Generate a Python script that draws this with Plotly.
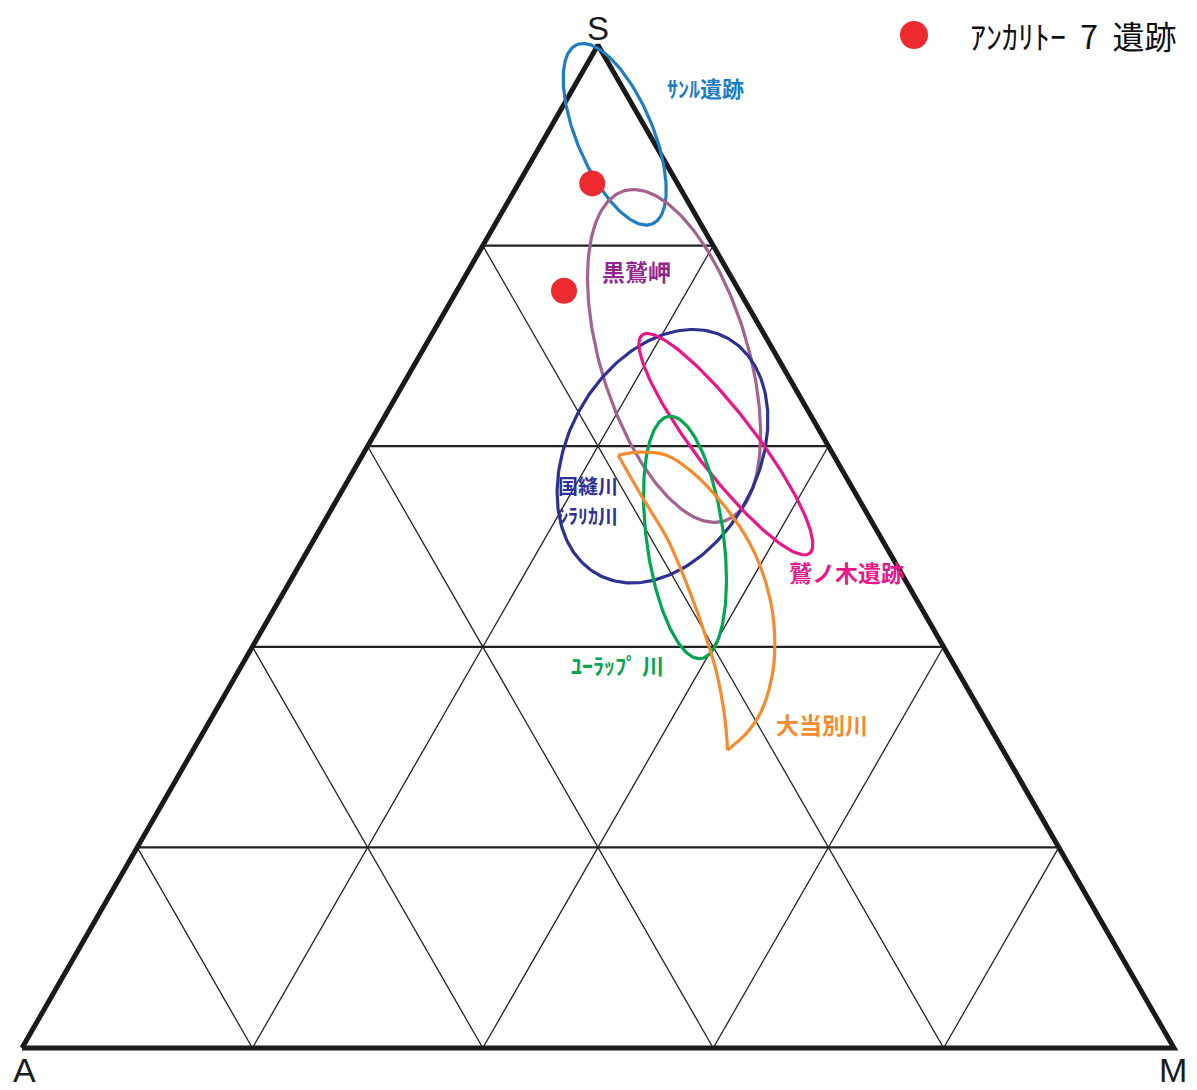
import numpy as np
import plotly.graph_objects as go

# アンカリトー7遺跡 samples (S, A, M in %)
dot_S = [86.2, 75.5]
dot_A = [7.4, 15.2]
dot_M = [6.4, 9.3]

# source ellipses: centre (S, A, M %), semi-axes (fraction of side), axis angle (deg)
ell_names = ["サンル遺跡", "黒鷲岬", "国縫川・シラリカ川", "鷲ノ木遺跡", "ユーラップ川"]
ell_S = [91.1, 69.0, 59.0, 60.2, 50.9]
ell_A = [3.0, 8.9, 14.9, 8.8, 17.0]
ell_M = [5.9, 22.1, 26.1, 31.0, 32.1]
ell_major = [0.084, 0.149, 0.1165, 0.119, 0.1055]
ell_minor = [0.033, 0.064, 0.0823, 0.026, 0.0335]
ell_angle = [113, 107, 61, 127.6, 97.6]
ell_colors = ["#1e7dc3", "#a3628f", "#2e3192", "#e8178a", "#00a650"]

# 大当別川 crescent outline (outer arc then inner arc)
ot_outer_S = [59.1, 59.4, 59.1, 57.4, 54.9, 51.9, 48.7, 44.7, 40.7, 37.0, 33.4, 31.4, 29.7]
ot_outer_A = [18.7, 16.7, 14.5, 13.1, 12.2, 11.7, 11.8, 12.7, 14.3, 16.4, 19.2, 21.4, 23.9]
ot_outer_M = [22.2, 23.9, 26.4, 29.5, 32.9, 36.4, 39.5, 42.6, 45.0, 46.6, 47.4, 47.2, 46.4]
ot_inner_S = [29.7, 33.0, 37.4, 40.7, 45.4, 50.7, 54.9, 59.1]
ot_inner_A = [23.9, 22.5, 21.0, 20.2, 19.3, 18.6, 18.7, 18.7]
ot_inner_M = [46.4, 44.5, 41.6, 39.1, 35.3, 30.7, 26.4, 22.2]
orange = "#f58b2e"

# grid every 20 %
grid_ticks = [20, 40, 60, 80]

R3 = np.sqrt(3) / 2


def to_xy(S, A, M):
    S, A, M = np.asarray(S, float), np.asarray(A, float), np.asarray(M, float)
    tot = S + A + M
    s, m = S / tot, M / tot
    return m + 0.5 * s, s


def ellipse(cs, ca, cm, ra, rb, ang, n=240):
    cx, cy = to_xy(cs, ca, cm)
    cy = cy * R3
    t = np.linspace(0, 2 * np.pi, n)
    th = np.radians(ang)
    x = cx + ra * np.cos(t) * np.cos(th) - rb * np.sin(t) * np.sin(th)
    y = cy + ra * np.cos(t) * np.sin(th) + rb * np.sin(t) * np.cos(th)
    return x, y / R3


fig = go.Figure()

# triangular grid
for k in grid_ticks:
    for S_, A_, M_, w in [([k, k], [100 - k, 0], [0, 100 - k], 2.2),
                          ([0, 100 - k], [100 - k, 0], [k, k], 1.3),
                          ([0, 100 - k], [k, k], [100 - k, 0], 1.3)]:
        gx, gy = to_xy(S_, A_, M_)
        fig.add_trace(go.Scatter(x=gx, y=gy, mode="lines", line=dict(color="#222", width=w),
                                 hoverinfo="skip"))

# outline A -> M -> S -> A
bx, by = to_xy([0, 0, 100, 0], [100, 0, 0, 100], [0, 100, 0, 0])
fig.add_trace(go.Scatter(x=bx, y=by, mode="lines", line=dict(color="#1a1a1a", width=5),
                         hoverinfo="skip"))

for i in range(len(ell_names)):
    ex, ey = ellipse(ell_S[i], ell_A[i], ell_M[i], ell_major[i], ell_minor[i], ell_angle[i])
    fig.add_trace(go.Scatter(x=ex, y=ey, mode="lines", name=ell_names[i],
                             line=dict(color=ell_colors[i], width=3.2), hoverinfo="skip"))

ox, oy = to_xy(ot_outer_S, ot_outer_A, ot_outer_M)
fig.add_trace(go.Scatter(x=ox, y=oy, mode="lines", name="大当別川",
                         line=dict(color=orange, width=3.2, shape="spline")))
ix, iy = to_xy(ot_inner_S, ot_inner_A, ot_inner_M)
fig.add_trace(go.Scatter(x=ix, y=iy, mode="lines", name="大当別川",
                         line=dict(color=orange, width=3.2, shape="spline")))

dx, dy = to_xy(dot_S, dot_A, dot_M)
fig.add_trace(go.Scatter(x=dx, y=dy, mode="markers", name="アンカリトー7遺跡",
                         marker=dict(size=26, color="#ec2a2f")))


def px(x, y):
    # picture pixel -> axis units (triangle base at y=1048, A at x=22, side 1152 px)
    return (x - 22) / 1152, (1048 - y) / 1003


cjk = "Noto Sans CJK JP"
latin = "Liberation Sans, Arial"
labels = [
    ("S", 598, 28, "#1a1a1a", 33, "center", latin),
    ("A", 24, 1070, "#1a1a1a", 34, "center", latin),
    ("M", 1173, 1070, "#1a1a1a", 34, "center", latin),
    ("<b>ｻﾝﾙ遺跡</b>", 705, 87, "#1e7dc3", 22, "center", cjk),
    ("<b>黒鷲岬</b>", 636, 271, "#92278f", 23, "center", cjk),
    ("<b>国縫川</b>", 556, 485, "#2e3192", 20, "left", cjk),
    ("<b>ｼﾗﾘｶ川</b>", 556, 515, "#2e3192", 20, "left", cjk),
    ("<b>ﾕｰﾗｯﾌﾟ 川</b>", 617, 664, "#00a650", 22, "center", cjk),
    ("<b>鷲ノ木遺跡</b>", 846, 572, "#e8178a", 23, "center", cjk),
    ("<b>大当別川</b>", 822, 724, orange, 23, "center", cjk),
    ("ｱﾝｶﾘﾄｰ  7  遺跡", 968, 35, "#111", 32, "left", cjk),
]
annotations = []
for txt, x, y, col, size, anchor, fam in labels:
    xd, yd = px(x, y)
    annotations.append(dict(text=txt, x=xd, y=yd, xref="x", yref="y", showarrow=False,
                            xanchor=anchor, yanchor="middle", align="left",
                            font=dict(family=fam, size=size, color=col)))

# legend symbol drawn by hand (legend markers are capped in size)
lx, ly = px(914, 35)
shapes = [dict(type="circle", xref="x", yref="y", xsizemode="pixel", ysizemode="pixel",
               xanchor=lx, yanchor=ly, x0=-14, x1=14, y0=-14, y1=14,
               fillcolor="#ec2a2f", line=dict(width=0))]

# page has an 8 px body margin, so the figure starts at (8, 8) in the window
FW, FH = 1181, 1082
fig.update_layout(
    width=FW, height=FH,
    margin=dict(l=0, r=0, t=0, b=0),
    paper_bgcolor="white", plot_bgcolor="white",
    showlegend=False,
    annotations=annotations,
    shapes=shapes,
    xaxis=dict(visible=False, range=[-14 / 1152, (FW - 14) / 1152]),
    yaxis=dict(visible=False, range=[(1040 - FH) / 1003, 1040 / 1003]),
)

fig.write_html("out.html")
